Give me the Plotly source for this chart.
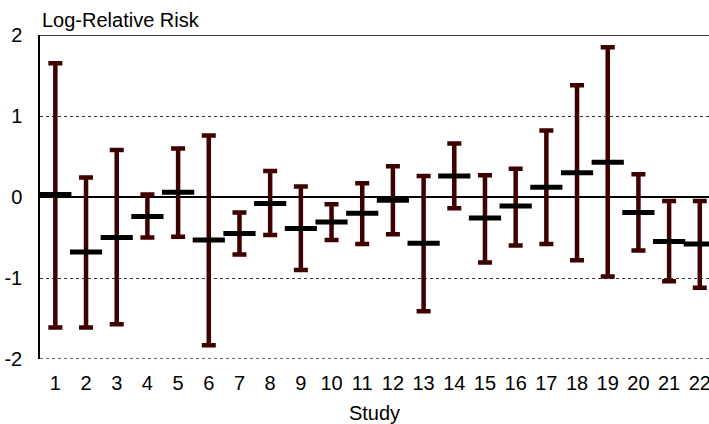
import plotly.graph_objects as go

studies = list(range(1, 23))
center = [0.03, -0.68, -0.50, -0.24, 0.06, -0.53, -0.45, -0.08, -0.39, -0.31, -0.20,
          -0.04, -0.57, 0.26, -0.26, -0.11, 0.12, 0.30, 0.43, -0.19, -0.55, -0.58]
upper = [1.65, 0.24, 0.58, 0.03, 0.60, 0.76, -0.19, 0.32, 0.13, -0.09, 0.17,
         0.38, 0.26, 0.66, 0.27, 0.35, 0.82, 1.38, 1.85, 0.28, -0.05, -0.05]
lower = [-1.61, -1.61, -1.57, -0.50, -0.49, -1.83, -0.71, -0.47, -0.90, -0.53, -0.58,
         -0.46, -1.41, -0.14, -0.81, -0.60, -0.58, -0.78, -0.98, -0.66, -1.04, -1.12]
y_ticks = [-2, -1, 0, 1, 2]

err_plus = [u - c for u, c in zip(upper, center)]
err_minus = [c - l for c, l in zip(center, lower)]

font = dict(family="Liberation Sans, Arial, sans-serif", size=20, color="#000")

fig = go.Figure()
fig.add_trace(go.Scatter(
    x=studies, y=center, mode="markers",
    marker=dict(symbol="line-ew", size=23, line=dict(width=5, color="#000")),
    error_y=dict(type="data", symmetric=False, array=err_plus, arrayminus=err_minus,
                 color="#3f0000", thickness=4.5, width=7),
    showlegend=False, cliponaxis=False,
))

fig.add_shape(type="line", xref="paper", yref="y", x0=0, x1=1, y0=2, y1=2,
              line=dict(color="#000", width=1.5))
fig.add_shape(type="line", xref="paper", yref="y", x0=0, x1=1, y0=-2, y1=-2,
              line=dict(color="#333", width=1.5, dash="3px,3px"))

fig.add_annotation(text="Log-Relative Risk", xref="paper", yref="paper", x=0, y=1,
                   xanchor="left", yanchor="bottom", showarrow=False, yshift=2,
                   font=font)

fig.update_layout(
    width=709, height=424,
    margin=dict(l=40, r=0, t=35, b=65),
    paper_bgcolor="white", plot_bgcolor="white",
    font=font,
    xaxis=dict(range=[0.5, 22.3], tickmode="array", tickvals=studies,
               ticktext=[str(s) for s in studies], showgrid=False, zeroline=False,
               showline=False, ticks="", ticklabelstandoff=10, automargin=False,
               ticklabeloverflow="allow",
               title=dict(text="Study", standoff=12, font=font)),
    yaxis=dict(range=[-2, 2], tickmode="array", tickvals=y_ticks,
               ticktext=[str(t) for t in y_ticks], showgrid=True, gridcolor="#333",
               griddash="3px,3px", gridwidth=1, zeroline=True, zerolinecolor="#000",
               zerolinewidth=1.5, showline=True, linecolor="#000", linewidth=1.5,
               ticks="", ticklabelstandoff=12, automargin=False),
)

fig.write_html("out.html")
